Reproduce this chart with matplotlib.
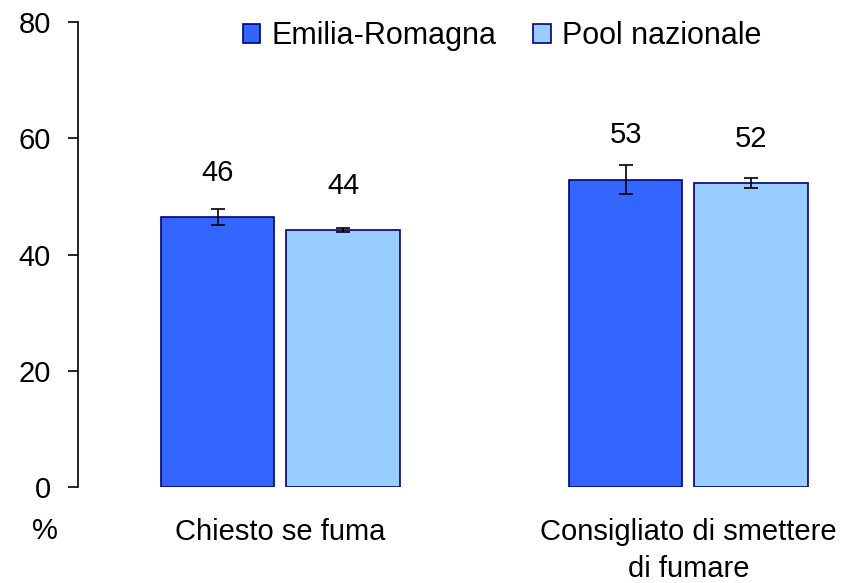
import numpy as np
import matplotlib
matplotlib.use("Agg")
import matplotlib.pyplot as plt

plt.rcParams['font.family'] = ['Liberation Sans', 'DejaVu Sans']

categories = ["Chiesto se fuma", "Consigliato di smettere\ndi fumare"]
series = ["Emilia-Romagna", "Pool nazionale"]
emilia = [46.4, 52.9]
emilia_err = [1.4, 2.5]
pool = [44.2, 52.3]
pool_err = [0.4, 0.8]
yticks = [0, 20, 40, 60, 80]

colors = ["#3366FF", "#99CCFF"]
edge = "#000080"
fs = 21

fig = plt.figure(figsize=(8.5, 5.83), dpi=100)
ax = fig.add_axes([78/850, 96/583, (830-78)/850, 465/583])

x = np.arange(len(categories))
w = 0.279
off = 0.154
for vals, errs, dx, col, name in [(emilia, emilia_err, -off, colors[0], series[0]),
                                   (pool, pool_err, off, colors[1], series[1])]:
    ax.bar(x + dx, vals, w, color=col, edgecolor=edge, linewidth=1.2, label=name,
           yerr=errs, error_kw=dict(ecolor="black", elinewidth=1.2, capsize=4.8, capthick=1.2))
    for xi, v in zip(x + dx, vals):
        ax.text(xi, v + 7.6, "%.0f" % v, ha="center", va="center", fontsize=fs)

ax.set_xlim(-0.496, 1.347)
ax.set_ylim(0, 80)
ax.set_yticks(yticks)
ax.set_xticks(x)
ax.set_xticklabels(categories, fontsize=fs, linespacing=1.45)
ax.tick_params(axis="x", length=0, pad=22)
ax.tick_params(axis="y", length=7.5, width=1.2, pad=12, labelsize=fs, direction="out")
for s in ["top", "right", "bottom"]:
    ax.spines[s].set_visible(False)
ax.spines["left"].set_linewidth(1.2)

fig.text(45/850, 1 - 531/583, "%", ha="center", va="center", fontsize=fs)

fig.legend(loc="center", bbox_to_anchor=(502/850, 1 - 36/583), ncol=2, frameon=False,
           fontsize=22, handlelength=0.58, handleheight=0.58, handletextpad=0.36,
           columnspacing=1.2)

fig.savefig("out.png", dpi=100)
